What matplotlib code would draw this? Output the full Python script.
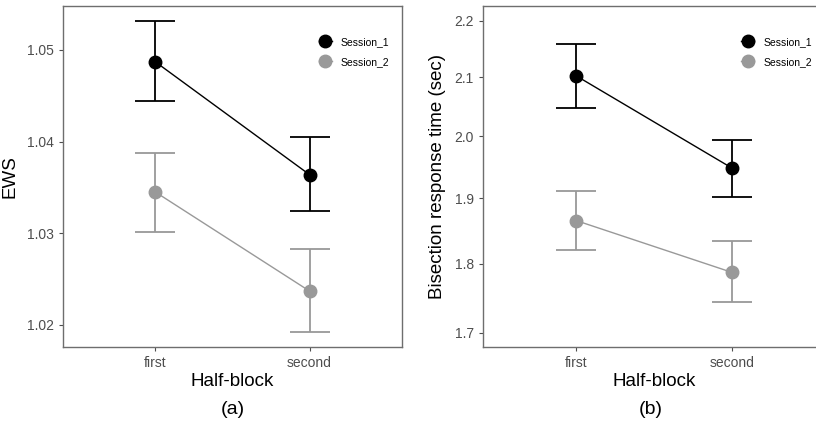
import matplotlib.pyplot as plt
import numpy as np
from matplotlib.ticker import FixedLocator, NullLocator
from matplotlib.lines import Line2D

plt.rcParams['font.family'] = ['Liberation Sans', 'DejaVu Sans']

halves = ['first', 'second']
sessions = ['Session_1', 'Session_2']

# panel (a) EWS
ews_mean = [[1.0487, 1.0364], [1.0345, 1.0237]]
ews_lo = [[1.0444, 1.0324], [1.0302, 1.0192]]
ews_hi = [[1.0532, 1.0405], [1.0388, 1.0283]]

# panel (b) bisection RT
rt_mean = [[2.102, 1.948], [1.865, 1.787]]
rt_lo = [[2.047, 1.902], [1.820, 1.743]]
rt_hi = [[2.158, 1.993], [1.911, 1.834]]

colors = ['black', '#999999']
W, H = 816, 429

fig = plt.figure(figsize=(8.16, 4.29), dpi=100)
ax1 = fig.add_axes([63 / W, 1 - 347 / H, 339 / W, 341 / H])
ax2 = fig.add_axes([483 / W, 1 - 347 / H, 342 / W, 341 / H])


def draw(ax, mean, lo, hi):
    x = np.arange(1, len(halves) + 1)
    for i, s in enumerate(sessions):
        m = np.array(mean[i])
        err = [m - np.array(lo[i]), np.array(hi[i]) - m]
        ax.errorbar(x, m, yerr=err, color=colors[i], linewidth=1.0,
                    elinewidth=1.3, capsize=14.5, capthick=1.3,
                    marker='o', markersize=9, zorder=3)
    ax.set_xlim(0.4, 2.6)
    ax.set_xticks(x)
    ax.set_xticklabels(halves)
    for sp in ax.spines.values():
        sp.set_color('#6e6e6e')
        sp.set_linewidth(1.0)
    ax.tick_params(colors='#4d4d4d', labelsize=10, length=3, width=0.8)
    ax.set_xlabel('Half-block', fontsize=13.5, labelpad=2)
    handles = [Line2D([], [], color=c, marker='o', markersize=9, linewidth=1.0)
               for c in colors]
    ax.legend(handles, sessions, loc='upper left', bbox_to_anchor=(0.728, 0.937),
              frameon=False, fontsize=7.5, handlelength=1.2, handletextpad=0.9,
              labelspacing=0.95)


draw(ax1, ews_mean, ews_lo, ews_hi)
ax1.set_ylim(1.0176, 1.0548)
ax1.set_yticks([1.02, 1.03, 1.04, 1.05])
ax1.set_yticklabels(['1.02', '1.03', '1.04', '1.05'])
ax1.set_ylabel('EWS', fontsize=13.5, labelpad=6)

draw(ax2, rt_mean, rt_lo, rt_hi)
ax2.set_yscale('log')
ax2.set_ylim(1.680, 2.227)
ax2.yaxis.set_major_locator(FixedLocator([1.7, 1.8, 1.9, 2.0, 2.1, 2.2]))
ax2.yaxis.set_minor_locator(NullLocator())
ax2.set_yticklabels(['1.7', '1.8', '1.9', '2.0', '2.1', '2.2'])
ax2.set_ylabel('Bisection response time (sec)', fontsize=13.5, labelpad=6)

fig.text(233 / W, 1 - 410 / H, '(a)', ha='center', va='center', fontsize=14)
fig.text(651 / W, 1 - 410 / H, '(b)', ha='center', va='center', fontsize=14)

fig.savefig('out.png', dpi=100)
